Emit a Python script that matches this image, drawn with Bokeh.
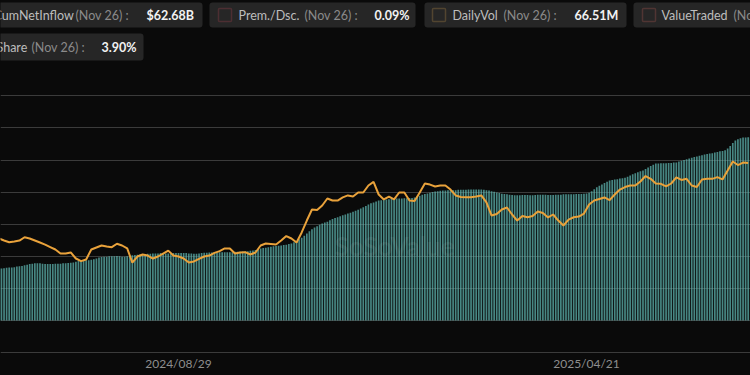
from bokeh.plotting import figure
from bokeh.models import (Range1d, FixedTicker, BoxAnnotation, Label, Grid,
                          ColumnDataSource, GlobalInlineStyleSheet)
from bokeh.embed import file_html
from bokeh.resources import INLINE

# ---------------- data ----------------
# cumulative net inflow, billions USD, one value per trading day (index 0 = 2024/05/20)
cum_inflow_b = [
    16.2, 16.2, 16.3, 16.4, 16.5, 16.5, 16.6, 16.8, 16.9, 17.0, 17.2, 17.4, 17.6,
    17.7, 17.8, 17.8, 17.8, 17.7, 17.6, 17.6, 17.6, 17.6, 17.7, 17.7, 17.7, 17.8, 17.8, 17.9, 18.0, 18.1, 18.3,
    18.5, 18.6, 18.7, 18.8, 18.8, 18.9, 19.1, 19.3, 19.6,
    19.8, 19.9, 19.9, 20.0, 20.0, 20.0, 20.1, 20.0, 19.9, 19.9, 20.0, 20.1,
    20.3, 20.4, 20.5, 20.6, 20.7, 20.7, 20.8, 20.8, 20.9, 20.9,
    20.9, 21.0, 21.0, 20.9, 20.9, 20.9, 21.0, 21.0, 21.0, 21.0,
    21.0, 21.0, 20.9, 20.9, 20.8, 20.8, 20.9,
    21.0, 21.1, 21.1, 21.2, 21.2, 21.2, 21.2, 21.3, 21.3, 21.3,
    21.3, 21.3, 21.3, 21.4, 21.4, 21.4, 21.5, 21.5, 21.6, 21.7, 21.8,
    22.0, 22.2, 22.4, 22.6, 22.7, 22.8, 23.0, 23.1, 23.2, 23.3, 23.4, 23.5, 23.6, 23.8, 24.0,
    24.4, 24.8, 25.3, 25.8, 26.4, 27.1,
    27.8, 28.4, 29.0, 29.4, 29.8, 30.2, 30.5, 30.8, 31.2,
    31.6, 31.9, 32.2, 32.5, 32.8, 33.0, 33.3,
    33.6, 33.9, 34.2, 34.5, 34.9,
    35.3, 35.7, 36.1, 36.5, 36.8, 37.1, 37.4,
    37.5, 37.6, 37.7, 37.8, 37.9, 38.0, 38.0,
    38.0, 38.0, 38.1, 38.1, 38.2, 38.2, 38.3,
    38.6, 38.9, 39.2, 39.4, 39.6, 39.8, 40.0, 40.2,
    40.3, 40.4, 40.5, 40.5, 40.6, 40.6, 40.6, 40.6, 40.7, 40.7,
    40.7, 40.7, 40.8, 40.8, 40.8, 40.8, 40.8, 40.8, 40.7, 40.6, 40.5,
    40.3, 40.1, 39.9, 39.7, 39.5, 39.4, 39.3, 39.2, 39.1, 39.0,
    39.0, 39.0, 39.1, 39.1, 39.1, 39.0, 39.0, 39.1, 39.2, 39.2,
    39.2, 39.2, 39.1, 39.1, 39.1, 39.2, 39.2, 39.2, 39.3, 39.3,
    39.3, 39.3, 39.3, 39.4, 39.4, 39.4, 39.5, 39.6, 39.8,
    40.3, 40.9, 41.5, 42.0, 42.4, 42.8, 43.2, 43.6,
    43.8, 43.9, 44.0, 44.2, 44.3, 44.5,
    44.8, 45.2, 45.6, 45.9, 46.2, 46.5, 46.7,
    47.2, 47.7, 48.1, 48.5, 48.9,
    48.9, 49.0, 49.0, 49.0, 49.1, 49.1, 49.2, 49.2,
    49.5, 49.8, 50.0, 50.2, 50.5,
    50.7, 50.9, 51.1, 51.3, 51.5, 51.7, 51.9, 52.0,
    52.1, 52.3, 52.5, 52.7, 52.8, 53.0,
    53.6, 54.4, 55.3, 56.1,
    56.5, 56.8, 57.0, 57.0, 57.1, 57.1,
]

# BTC price, thousands USD, every second trading day
btc_price_k = [
    68.7, 67.4, 66.3, 66.8, 67.4, 69.5, 68.7, 67.4, 66.1, 64.8,
    63.2, 61.6, 59.0, 59.0, 59.7, 55.8, 54.1, 55.2, 61.6, 62.9,
    64.2, 63.5, 63.1, 65.3, 64.2, 62.3, 53.2, 57.1, 58.4, 57.7,
    55.8, 57.1, 59.0, 60.9, 57.7, 57.1, 55.8, 53.2, 53.9, 55.6,
    57.1, 57.7, 59.4, 60.6, 62.3, 62.3, 59.0, 59.7, 59.9, 58.4,
    59.7, 64.2, 65.5, 65.2, 64.8, 67.4, 70.3, 68.7, 66.1, 72.6,
    80.3, 87.4, 87.1, 90.0, 94.5, 93.2, 93.2, 95.2, 96.5, 95.8,
    98.4, 98.4, 102.9, 105.2, 97.1, 93.9, 95.8, 93.9, 98.4, 98.4,
    93.2, 92.9, 98.4, 104.2, 103.5, 102.3, 102.9, 102.9, 100.3, 96.5,
    95.5, 95.4, 95.4, 95.8, 96.5, 92.0, 83.5, 84.5, 87.4, 88.7,
    84.2, 80.3, 83.2, 82.4, 83.2, 86.1, 85.2, 82.3, 84.2, 80.3,
    77.1, 80.9, 82.4, 82.9, 84.8, 90.6, 93.2, 94.2, 95.2, 93.5,
    97.1, 100.3, 101.9, 102.9, 102.9, 105.5, 109.0, 107.2, 104.2, 104.0,
    102.3, 104.2, 108.1, 106.5, 107.2, 102.9, 101.9, 106.8, 107.2, 107.2,
    108.3, 106.8, 112.6, 118.4, 116.1, 117.7, 117.4,
]

tick_idx = [70, 229]
tick_labels = ["2024/08/29", "2025/04/21"]
grid_values_b = [-10, 0, 10, 20, 30, 40, 50, 60, 70]

legend_names = ["CumNetInflow", "Prem./Dsc.", "DailyVol", "ValueTraded", "Share"]
legend_dates = ["(Nov 26) :"] * 5
legend_values = ["$62.68B", "0.09%", "66.51M", "", "3.90%"]
legend_marks = [None, "#a8434f", "#b8904a", "#b25b52", None]

# ---------------- layout helpers (pixel geometry of the frame) ----------------
W, H = 750, 375
PX_PER_DAY = 2.566
PX_PER_B = 3.21
X_LEFT = 0.62           # trading-day index at the left edge
Y_TOP = 99.69           # billions at the top edge
PX_PER_K = 1.55
P_TOP = 222.26          # BTC price (k$) at the top edge


def dx(px):  # pixel x -> data x
    return X_LEFT + px / PX_PER_DAY


def dy(py):  # pixel y -> data y (billions)
    return Y_TOP - py / PX_PER_B


x_right = X_LEFT + W / PX_PER_DAY
y_bottom = Y_TOP - H / PX_PER_B
p_bottom = P_TOP - H / PX_PER_K

BG = "#0a0a0a"

p = figure(width=W, height=H, output_backend="svg", toolbar_location=None,
           x_range=Range1d(X_LEFT, x_right), y_range=Range1d(y_bottom, Y_TOP),
           x_axis_location=None, y_axis_location=None,
           min_border_left=0, min_border_right=0, min_border_top=0, min_border_bottom=0,
           background_fill_color=BG, border_fill_color=BG, outline_line_color=None)
p.stylesheets = [GlobalInlineStyleSheet(css="body{background:#0a0a0a;}")]
p.extra_y_ranges = {"price": Range1d(p_bottom, P_TOP)}
for g in p.grid:
    g.visible = False

p.add_layout(Grid(dimension=1, ticker=FixedTicker(ticks=grid_values_b),
                  grid_line_color="#3b3b3b", grid_line_width=1.2))

idx = list(range(len(cum_inflow_b)))
bars = ColumnDataSource(dict(x=idx, top=cum_inflow_b))
p.vbar(x="x", top="top", bottom=0, width=0.66, source=bars,
       fill_color="#5fb9b3", fill_alpha=0.72, line_color=None)

line_idx = idx[::2][:len(btc_price_k)]
p.line(x=line_idx, y=btc_price_k, y_range_name="price",
       line_color="#e9a23b", line_width=2)

# watermark
p.add_layout(Label(x=dx(334), y=dy(245), text="SoSoValue", text_baseline="middle",
                   text_font="Lato", text_font_size="26px", text_font_style="bold",
                   text_color="#ffffff", text_alpha=0.08))

# x tick labels
for t, lab in zip(tick_idx, tick_labels):
    p.add_layout(Label(x=t, y=dy(363), text=lab, text_align="center", text_baseline="middle",
                       text_font="Lato", text_font_size="12px", text_color="#8e8e8e"))

# ---------------- legend / tooltip strip ----------------
boxes = [(-4, 202, 2, 27), (209, 415, 2, 27), (424, 626, 2, 27), (633, 760, 2, 27), (-4, 143, 33, 60)]
name_x = [-7, 238, 452, 661, -4]
date_x = [75, 304, 503, 733, 31]
val_x = [146, 374, 574, None, 101]
row_cy = [15, 15, 15, 15, 47]
mark_x = [None, 218, 432, 642, None]
FS = "12.5px"

for i in range(5):
    l, r, t, b = boxes[i]
    p.add_layout(BoxAnnotation(left=dx(l), right=dx(r), top=dy(t), bottom=dy(b),
                               fill_color="#262626", fill_alpha=1, line_color=None,
                               border_radius=3, level="overlay"))
    if legend_marks[i]:
        mx = mark_x[i]
        p.add_layout(BoxAnnotation(left=dx(mx), right=dx(mx + 13), top=dy(8), bottom=dy(21),
                                   fill_color="#262626", fill_alpha=1,
                                   line_color=legend_marks[i], line_width=1.5,
                                   border_radius=1, level="overlay"))
    cy = dy(row_cy[i])
    p.add_layout(Label(x=dx(name_x[i]), y=cy, text=legend_names[i], text_baseline="middle",
                       text_font="Lato", text_font_size=FS, text_color="#bdbdbd",
                       level="overlay"))
    p.add_layout(Label(x=dx(date_x[i]), y=cy, text=legend_dates[i], text_baseline="middle",
                       text_font="Lato", text_font_size=FS, text_color="#8a8a8a",
                       level="overlay"))
    if val_x[i] is not None:
        p.add_layout(Label(x=dx(val_x[i]), y=cy, text=legend_values[i], text_baseline="middle",
                           text_font="Lato", text_font_size=FS, text_font_style="bold",
                           text_color="#f2f2f2", level="overlay"))

open("out.html", "w").write(file_html(p, INLINE))
